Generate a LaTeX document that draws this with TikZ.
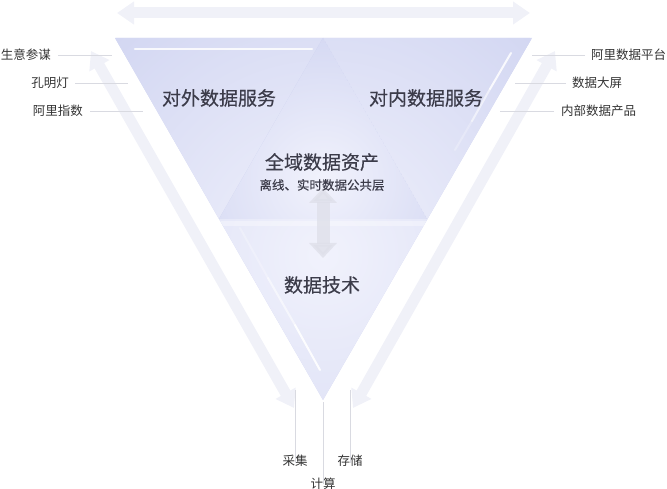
\documentclass[tikz,border=0pt]{standalone}
\usepackage{fontspec}
\setmainfont{Noto Sans CJK SC}
\newfontfamily\medfont[FakeBold=0.35]{Noto Sans CJK SC}
\usetikzlibrary{arrows.meta}
\definecolor{arrowbg}{HTML}{F0F1F8}
\definecolor{lavA}{HTML}{D3D7F2}
\definecolor{lavB}{HTML}{C9CEEF}
\definecolor{glow}{HTML}{F1F2FC}
\definecolor{txtmain}{HTML}{3C3C4A}
\definecolor{txtlab}{HTML}{333333}
\definecolor{leader}{HTML}{D9DAE1}
\definecolor{midarrow}{HTML}{DEDFE9}
\tikzset{
 bigarrow/.style={draw=arrowbg, line width=11pt, {Triangle[width=22pt,length=17pt]}-{Triangle[width=22pt,length=17pt]}},
 midarr/.style={draw=midarrow, line width=13pt, {Triangle[width=27pt,length=15pt]}-{Triangle[width=27pt,length=15pt]}},
 leaderline/.style={draw=leader, line width=0.8pt},
 mainlabel/.style={font=\medfont\fontsize{19}{22}\selectfont, text=txtmain, inner sep=0pt},
 sublabel/.style={font=\fontsize{12.5}{15}\selectfont, text=txtlab, inner sep=0pt},
 hilite/.style={draw=white, line width=2.6pt, line cap=round},
}
\begin{document}
\begin{tikzpicture}[x=1pt,y=-1pt]
\useasboundingbox (0,0) rectangle (667,489);
% background arrows
\coordinate (ta) at (117,13);
\coordinate (tb) at (530,13);
\draw[bigarrow] (ta) -- (tb);
\coordinate (la) at (91,51);
\coordinate (lb) at (294,408);
\draw[bigarrow] (la) -- (lb);
\coordinate (ra) at (555,51);
\coordinate (rb) at (353,408);
\draw[bigarrow] (ra) -- (rb);
% triangle geometry
\coordinate (A) at (115,38);
\coordinate (B) at (532,38);
\coordinate (C) at (323,400);
\coordinate (P) at (323,38);
\coordinate (L) at (219,219);
\coordinate (R) at (427,219);
\fill[lavA] (A) -- (B) -- (C) -- cycle;
\begin{scope}
\clip (A) -- (B) -- (C) -- cycle;
\shade[inner color=glow, outer color=lavA] (323,255) circle (300);
\fill[white, opacity=.35] (0,221) rectangle (667,226);
\end{scope}
\begin{scope}
\clip (P) -- (L) -- (R) -- cycle;
\fill[lavB] (P) -- (L) -- (R) -- cycle;
\shade[inner color=glow, outer color=lavB] (323,180) circle (210);
\end{scope}
% highlights
\coordinate (h1) at (135,49);
\coordinate (h2) at (312,49);
\draw[hilite, opacity=.85] (h1) -- (h2);
\coordinate (r1) at (511,53);
\coordinate (r2) at (490,89);
\coordinate (r3) at (472,121);
\coordinate (r4) at (455,150);
\draw[hilite, line width=2pt, opacity=.85] (r1) -- (r2);
\draw[hilite, line width=2pt, opacity=.55] (r2) -- (r3);
\draw[hilite, line width=2pt, opacity=.25] (r3) -- (r4);
\coordinate (l1) at (240,228);
\coordinate (l2) at (268,278);
\coordinate (l3) at (295,325);
\coordinate (l4) at (320,370);
\draw[hilite, line width=2pt, opacity=.25] (l1) -- (l2);
\draw[hilite, line width=2pt, opacity=.55] (l2) -- (l3);
\draw[hilite, line width=2pt, opacity=.9] (l3) -- (l4);
% middle arrow
\coordinate (ma) at (323,188);
\coordinate (mb) at (323,258);
\draw[midarr, opacity=.75] (ma) -- (mb);
% main labels
\node[mainlabel] (out) at (219,98) {对外数据服务};
\node[mainlabel] (in) at (426,98) {对内数据服务};
\node[mainlabel] (all) at (322,162) {全域数据资产};
\node[font=\medfont\fontsize{12.5}{15}\selectfont, text=txtmain, inner sep=0pt] (pub) at (322,185) {离线、实时数据公共层};
\node[mainlabel] (tech) at (322,285) {数据技术};
% left labels
\node[sublabel, anchor=east] (s1) at (51,55) {生意参谋};
\node[sublabel, anchor=east] (s2) at (69,83) {孔明灯};
\node[sublabel, anchor=east] (s3) at (83,111) {阿里指数};
\coordinate (s1e) at (112,55);
\coordinate (s2e) at (128,83);
\coordinate (s3e) at (143,111);
\draw[leaderline] ([xshift=7pt]s1.east) -- (s1e);
\draw[leaderline] ([xshift=6pt]s2.east) -- (s2e);
\draw[leaderline] ([xshift=7pt]s3.east) -- (s3e);
% right labels
\node[sublabel, anchor=west] (t1) at (591,55) {阿里数据平台};
\node[sublabel, anchor=west] (t2) at (572,83) {数据大屏};
\node[sublabel, anchor=west] (t3) at (561,111) {内部数据产品};
\coordinate (t1e) at (532,55);
\coordinate (t2e) at (515,83);
\coordinate (t3e) at (500,111);
\draw[leaderline] ([xshift=-6pt]t1.west) -- (t1e);
\draw[leaderline] ([xshift=-6pt]t2.west) -- (t2e);
\draw[leaderline] ([xshift=-7pt]t3.west) -- (t3e);
% bottom labels
\node[sublabel] (b1) at (295,461) {采集};
\node[sublabel] (b2) at (350,461) {存储};
\node[sublabel] (b3) at (323,484) {计算};
\coordinate (b1t) at (295,390);
\coordinate (b2t) at (350,390);
\coordinate (b3t) at (323,402);
\draw[leaderline] (b1t) -- ([yshift=-8pt]b1.north);
\draw[leaderline] (b2t) -- ([yshift=-8pt]b2.north);
\draw[leaderline] (b3t) -- ([yshift=-6pt]b3.north);
\end{tikzpicture}
\end{document}
